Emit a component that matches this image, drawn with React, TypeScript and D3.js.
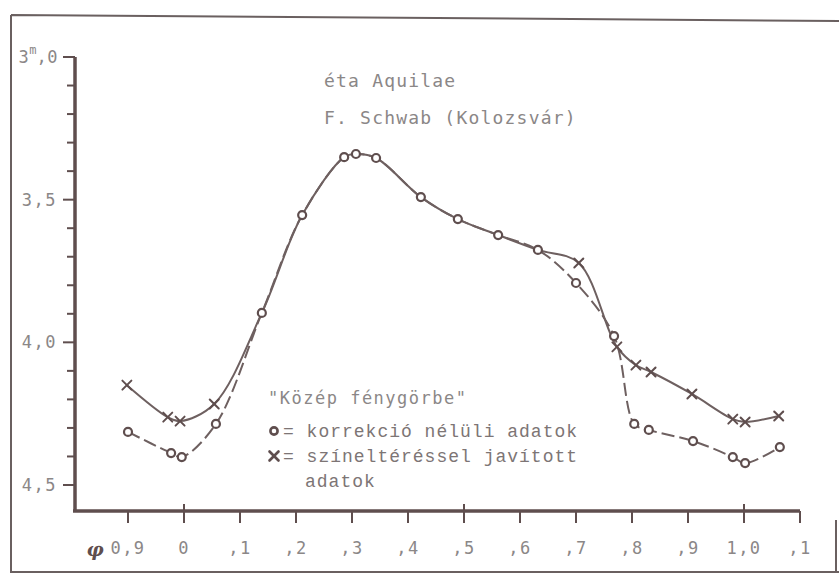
import React from 'react';
import * as d3 from 'd3';

// phase / magnitude
const circlePhase = [0.9, 0.977, 0.996, 1.057, 1.139, 1.211, 1.286, 1.307, 1.343, 1.423, 1.489, 1.561, 1.632, 1.7, 1.768, 1.804, 1.83, 1.909, 1.98, 2.002, 2.064];
const circleMag = [4.314, 4.388, 4.402, 4.286, 3.897, 3.554, 3.351, 3.34, 3.354, 3.491, 3.568, 3.624, 3.676, 3.792, 3.978, 4.286, 4.307, 4.346, 4.402, 4.423, 4.367];

const crossPhase = [0.898, 0.971, 0.993, 1.054, 1.139, 1.211, 1.286, 1.307, 1.343, 1.423, 1.489, 1.561, 1.632, 1.705, 1.773, 1.807, 1.834, 1.907, 1.98, 2.002, 2.062];
const crossMag = [4.15, 4.262, 4.276, 4.216, 3.897, 3.554, 3.351, 3.34, 3.354, 3.491, 3.568, 3.624, 3.676, 3.722, 4.016, 4.08, 4.104, 4.181, 4.269, 4.279, 4.258];
// the middle part of the corrected curve runs together with the other one, no markers there
const crossMarked = [true, true, true, true, false, false, false, false, false, false, false, false, false, true, true, true, true, true, true, true, true];

const xTicks = [0.9, 1.0, 1.1, 1.2, 1.3, 1.4, 1.5, 1.6, 1.7, 1.8, 1.9, 2.0, 2.1];
const xTickLabels = ['0,9', '0', ',1', ',2', ',3', ',4', ',5', ',6', ',7', ',8', ',9', '1,0', ',1'];
const yMajor = [3.0, 3.5, 4.0, 4.5];
const yMajorLabels = ['3,0', '3,5', '4,0', '4,5'];
const yMinor = d3.range(3.0, 4.51, 0.1);

const ink = '#5f4e4e';
const line = '#6e6060';
const grey = '#8b8787';
const mono = '"DejaVu Sans Mono", monospace';
const courier = '"Liberation Mono", monospace';

const W = 839;
const H = 576;

export default function App() {
  const x = d3.scaleLinear().domain([0.9, 2.1]).range([128, 800]);
  const y = d3.scaleLinear().domain([3.0, 4.5]).range([57, 485]);
  const axisY = 511;
  const axisX = 75;

  const curve = d3.line<[number, number]>()
    .x(d => x(d[0]))
    .y(d => y(d[1]))
    .curve(d3.curveCatmullRom.alpha(0.5));

  const circlePts = circlePhase.map((p, i) => [p, circleMag[i]] as [number, number]);
  const crossPts = crossPhase.map((p, i) => [p, crossMag[i]] as [number, number]);

  const cross = (cx: number, cy: number, s: number, key: string | number, w = 2) => (
    <g key={key} stroke={ink} strokeWidth={w} strokeLinecap="round">
      <line x1={cx - s} y1={cy - s} x2={cx + s} y2={cy + s} />
      <line x1={cx - s} y1={cy + s} x2={cx + s} y2={cy - s} />
    </g>
  );

  return (
    <div style={{ position: 'fixed', left: 0, top: 0 }}>
      <svg width={W} height={H} style={{ display: 'block', background: '#fff' }}>
        {/* outer frame */}
        <path d={`M11,15 L839,21 M11,15 L11,572 L839,572 M836,520 L836,572`} fill="none" stroke="#6a6060" strokeWidth={2} />

        {/* y axis */}
        <line x1={axisX} y1={y(3.0)} x2={axisX} y2={axisY + 1} stroke={ink} strokeWidth={3.5} />
        {yMinor.map((v, i) => (
          <line key={'ym' + i} x1={axisX - (i % 5 === 0 ? 12 : 8)} x2={axisX} y1={y(v)} y2={y(v)} stroke={ink} strokeWidth={2} />
        ))}
        {yMajor.map((v, i) =>
          i === 0 ? (
            // first label carries the magnitude unit, raised after the 3
            <text key={'yl' + i} x={58} y={y(v) + 6} textAnchor="end" fontFamily={mono} fontSize={17} fill={grey} letterSpacing={0.5}>
              3<tspan dy={-9} fontSize={12} letterSpacing={0}>m</tspan>
              <tspan dy={9}>,0</tspan>
            </text>
          ) : (
            <text key={'yl' + i} x={57} y={y(v) + 6} textAnchor="end" fontFamily={mono} fontSize={17} fill={grey} letterSpacing={1.5}>
              {yMajorLabels[i]}
            </text>
          )
        )}

        {/* x axis */}
        <line x1={axisX - 2} y1={axisY} x2={x(2.1)} y2={axisY} stroke={ink} strokeWidth={3.5} />
        {xTicks.map((v, i) => {
          const big = i === 1 || i === 6 || i === 11;
          return (
            <line key={'xt' + i} x1={x(v)} x2={x(v)} y1={big ? axisY - 7 : axisY} y2={axisY + 12} stroke={ink} strokeWidth={2} />
          );
        })}
        {xTickLabels.map((t, i) => (
          <text key={'xl' + i} x={x(xTicks[i])} y={554} textAnchor="middle" fontFamily={mono} fontSize={17} fill={grey} letterSpacing={1.5}>
            {t}
          </text>
        ))}
        <text x={95} y={556} textAnchor="middle" fontFamily="'DejaVu Serif', serif" fontStyle="italic" fontWeight="bold" fontSize={19} fill={ink}>φ</text>

        {/* curves */}
        <path d={curve(crossPts) ?? ''} fill="none" stroke={line} strokeWidth={2} />
        <path d={curve(circlePts) ?? ''} fill="none" stroke={line} strokeWidth={2} strokeDasharray="13 5" />

        {crossPts.map((d, i) => (crossMarked[i] ? cross(x(d[0]), y(d[1]), 4.5, 'c' + i) : null))}
        {circlePts.map((d, i) => (
          <circle key={'o' + i} cx={x(d[0])} cy={y(d[1])} r={4} fill="#fff" stroke={ink} strokeWidth={2.2} />
        ))}

        {/* title */}
        <text x={324} y={87} fontFamily={mono} fontSize={18} fill={grey} letterSpacing={1.2}>éta Aquilae</text>
        <text x={324} y={124} fontFamily={mono} fontSize={18} fill={grey} letterSpacing={1.2}>F. Schwab (Kolozsvár)</text>

        {/* legend */}
        <text x={268} y={404} fontFamily={mono} fontSize={17} fill={grey} letterSpacing={1.5}>"Közép fénygörbe"</text>
        <circle cx={274} cy={431} r={3.6} fill="#fff" stroke={ink} strokeWidth={2.6} />
        <text x={283} y={437} fontFamily={courier} fontSize={18} fill="#7d7575" letterSpacing={1}>= korrekció nélüli adatok</text>
        {cross(274, 456, 4.5, 'legx', 2.6)}
        <text x={283} y={462} fontFamily={courier} fontSize={18} fill="#7d7575" letterSpacing={1}>= színeltéréssel javított</text>
        <text x={305} y={487} fontFamily={courier} fontSize={18} fill="#7d7575" letterSpacing={1}>adatok</text>
      </svg>
    </div>
  );
}
